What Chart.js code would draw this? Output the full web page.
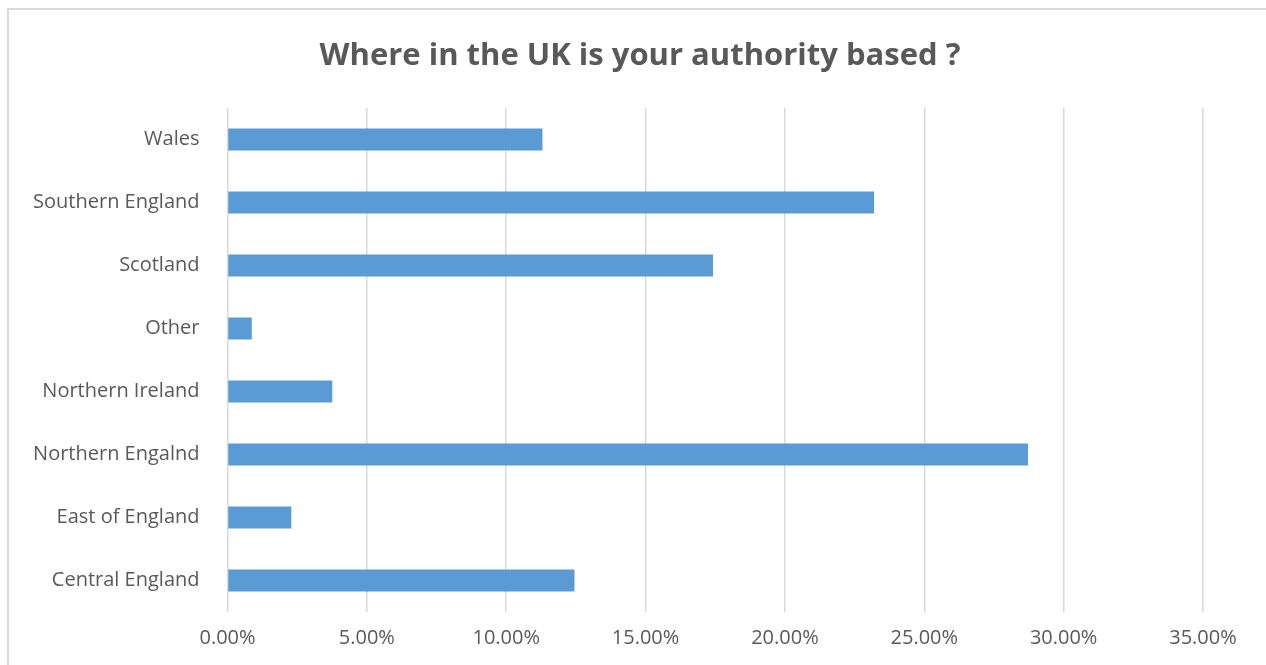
<!DOCTYPE html>
<html>
<head>
<meta charset="utf-8">
<script src="https://cdn.jsdelivr.net/npm/chart.js@4/dist/chart.umd.min.js"></script>
<style>
  html, body { margin: 0; padding: 0; background: #ffffff; }
  #wrap { position: relative; width: 1266px; height: 665px; overflow: hidden; }
  #frame { position: absolute; left: 7px; top: 8px; width: 1300px; height: 700px;
           border-left: 2px solid #d9d9d9; border-top: 2px solid #d9d9d9; box-sizing: border-box; }
  canvas { position: absolute; left: 0; top: 0; }
</style>
</head>
<body>
<div id="wrap">
  <div id="frame"></div>
  <canvas id="c" width="1266" height="665"></canvas>
</div>
<script>
const titleText = 'Where in the UK is your authority based ?';
const categories = ['Wales', 'Southern England', 'Scotland', 'Other', 'Northern Ireland', 'Northern Engalnd', 'East of England', 'Central England'];
const percentValues = [11.30, 23.20, 17.42, 0.87, 3.76, 28.72, 2.29, 12.45];
const axisMin = 0;
const axisMax = 35;
const axisStep = 5;

const textColor = '#595959';
const fontFamily = "'Open Sans', 'Liberation Sans', sans-serif";

// Centre the title on the whole frame rather than on the area left of the right padding
const titleShift = {
  id: 'titleShift',
  afterLayout(chart) {
    const t = chart.titleBlock;
    if (t) { t.left = 77; t.width = t.right - t.left; }
  }
};

new Chart(document.getElementById('c'), {
  type: 'bar',
  data: {
    labels: categories,
    datasets: [{
      data: percentValues,
      backgroundColor: '#5b9bd5',
      borderWidth: 0,
      categoryPercentage: 1.0,
      barPercentage: 0.35
    }]
  },
  options: {
    indexAxis: 'y',
    responsive: false,
    animation: false,
    devicePixelRatio: 1,
    layout: { padding: { left: 0, right: 63, top: 0, bottom: 17 } },
    plugins: {
      legend: { display: false },
      tooltip: { enabled: false },
      title: {
        display: true,
        text: titleText,
        color: textColor,
        font: { family: fontFamily, size: 31, weight: 'bold', lineHeight: 1.2 },
        padding: { top: 37.5, bottom: 33.3 }
      }
    },
    scales: {
      x: {
        min: axisMin,
        max: axisMax,
        grid: { color: '#d9d9d9', lineWidth: 1.5, drawTicks: false },
        border: { display: false },
        ticks: {
          stepSize: axisStep,
          padding: 14,
          color: textColor,
          font: { family: fontFamily, size: 20 },
          callback: v => Number(v).toFixed(2) + '%'
        },
        afterFit: s => { s.height = 36; }
      },
      y: {
        grid: { display: false, drawTicks: false },
        border: { display: false },
        ticks: {
          padding: 28,
          color: textColor,
          font: { family: fontFamily, size: 20 }
        },
        afterFit: s => { s.width = 227.5; }
      }
    }
  },
  plugins: [titleShift]
});
</script>
</body>
</html>
